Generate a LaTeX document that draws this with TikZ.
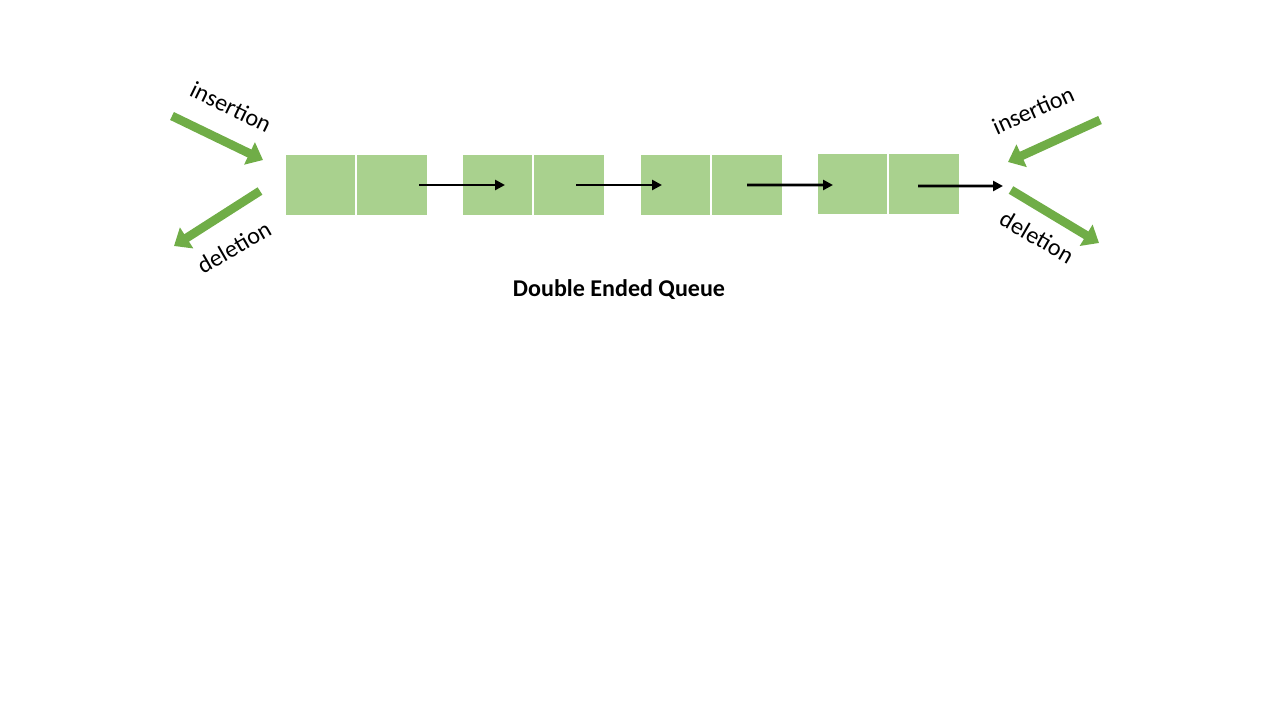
\documentclass[tikz,border=0pt]{standalone}
\usepackage{fontspec}
\setmainfont{Carlito}
\usepackage{tikz}
\definecolor{cellgreen}{RGB}{169,209,142}
\definecolor{arrgreen}{RGB}{112,173,71}
\usetikzlibrary{arrows.meta}

\begin{document}
\begin{tikzpicture}[
  cell/.style={rectangle,draw=white,line width=0.6pt,fill=cellgreen,minimum width=1.42cm,minimum height=1.24cm,inner sep=0pt},
  link/.style={line width=1.5pt,-{Triangle[length=0.2cm,width=0.2cm]}},
  endarrow/.style={line width=5pt,color=arrgreen,-{Triangle[length=0.3cm,width=0.48cm]}},
  lbl/.style={font=\fontsize{13.7}{16}\selectfont}]
\useasboundingbox (0,0) rectangle (25.6,14.4);

\node[cell] (q1a) at (6.41,10.7) {};
\node[cell] (q1b) at (7.84,10.7) {};
\node[cell] (q2a) at (9.95,10.7) {};
\node[cell] (q2b) at (11.38,10.7) {};
\node[cell] (q3a) at (13.51,10.7) {};
\node[cell] (q3b) at (14.94,10.7) {};
\node[cell] (q4a) at (17.05,10.72) {};
\node[cell] (q4b) at (18.48,10.72) {};

\draw [link] ([xshift=0.54cm]q1b.center) -- ([xshift=0.15cm]q2a.center);
\draw [link] ([xshift=0.14cm]q2b.center) -- ([xshift=-0.27cm]q3a.center);
\draw [link] (q3b.center) -- ([xshift=-0.39cm,yshift=-0.02cm]q4a.center);
\coordinate (tailend) at (20.06,10.68);
\draw [link] ([xshift=-0.12cm,yshift=-0.04cm]q4b.center) -- (tailend);

\coordinate (insL1) at (3.44,12.08);
\coordinate (insL2) at (5.26,11.2);
\coordinate (delL1) at (5.2,10.58);
\coordinate (delL2) at (3.48,9.48);
\coordinate (insR1) at (22,12.0);
\coordinate (insR2) at (20.16,11.16);
\coordinate (delR1) at (20.22,10.6);
\coordinate (delR2) at (21.98,9.54);
\draw [endarrow] (insL1) -- (insL2);
\draw [endarrow] (delL1) -- (delL2);
\draw [endarrow] (insR1) -- (insR2);
\draw [endarrow] (delR1) -- (delR2);

\node[lbl,rotate=-26] (insLtxt) at (4.62,12.26) {insertion};
\node[lbl,rotate=30] (delLtxt) at (4.68,9.46) {deletion};
\node[lbl,rotate=24] (insRtxt) at (20.66,12.2) {insertion};
\node[lbl,rotate=-30] (delRtxt) at (20.74,9.66) {deletion};

\node[lbl,font=\fontsize{13.7}{16}\selectfont\bfseries] (title) at (12.38,8.6) {Double Ended Queue};
\end{tikzpicture}
\end{document}
